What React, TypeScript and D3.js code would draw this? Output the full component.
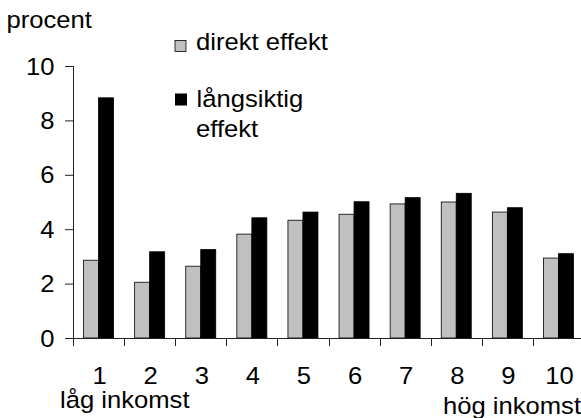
import * as React from "react";
import * as d3 from "d3";

// decile groups (1 = low income, 10 = high income)
const categories = ["1", "2", "3", "4", "5", "6", "7", "8", "9", "10"];
const seriesNames = ["direkt effekt", "långsiktig effekt"];
const direktEffekt = [2.86, 2.05, 2.64, 3.82, 4.33, 4.55, 4.93, 5.0, 4.63, 2.94];
const langsiktigEffekt = [8.83, 3.17, 3.25, 4.42, 4.63, 5.01, 5.16, 5.32, 4.79, 3.1];
const yTicks = [0, 2, 4, 6, 8, 10];
const seriesColors = ["#c0c0c0", "#000000"];

const W = 581;
const H = 418;
const FONT = "'Liberation Sans', Arial, sans-serif";
const FS = 23.5;
const SX = 1.09;

const App: React.FC = () => {
    const svgRef = React.useRef<SVGSVGElement | null>(null);

    React.useEffect(() => {
        if (!svgRef.current) return;
        const svg = d3.select(svgRef.current);
        svg.selectAll("*").remove();

        const x = d3.scaleBand<string>().domain(categories).range([73, 584]).padding(0);
        const bw = x.bandwidth();
        const x1 = d3.scaleBand<string>().domain(seriesNames).range([bw / 2 - 15, bw / 2 + 15]);
        const y = d3.scaleLinear().domain([0, 10]).range([338, 66]);

        const txt = (g: any, s: string, tx: number, ty: number, anchor = "start") =>
            g.append("text")
                .attr("transform", `translate(${tx},${ty}) scale(${SX},1)`)
                .attr("text-anchor", anchor)
                .attr("font-family", FONT)
                .attr("font-size", FS)
                .attr("fill", "#000")
                .text(s);

        // bars
        const rows = categories.map((c, i) => ({ c, vals: [direktEffekt[i], langsiktigEffekt[i]] }));
        const grp = svg.selectAll(".grp").data(rows).enter().append("g")
            .attr("transform", d => `translate(${x(d.c)},0)`);
        grp.selectAll("rect")
            .data(d => d.vals.map((v, k) => ({ k, v })))
            .enter().append("rect")
            .attr("x", d => x1(seriesNames[d.k])!)
            .attr("width", x1.bandwidth())
            .attr("y", d => y(d.v))
            .attr("height", d => y(0) - y(d.v))
            .attr("fill", d => seriesColors[d.k])
            .attr("stroke", "#000")
            .attr("stroke-width", 0.8);

        // y axis
        svg.append("line")
            .attr("x1", 73.5).attr("x2", 73.5).attr("y1", y(10)).attr("y2", y(0))
            .attr("stroke", "#222").attr("stroke-width", 1);
        yTicks.forEach(t => {
            svg.append("line")
                .attr("x1", 65).attr("x2", 73.5).attr("y1", y(t) + 0.5).attr("y2", y(t) + 0.5)
                .attr("stroke", "#222").attr("stroke-width", 1);
            txt(svg, String(t), 54.5, y(t) + 8.5, "end");
        });

        // x axis
        svg.append("line")
            .attr("x1", 65).attr("x2", W).attr("y1", 338.5).attr("y2", 338.5)
            .attr("stroke", "#222").attr("stroke-width", 1);
        categories.forEach((c, i) => {
            const bx = Math.round(x(c)!) + 0.5;
            if (i > 0 || true) {
                svg.append("line")
                    .attr("x1", bx).attr("x2", bx).attr("y1", 338.5).attr("y2", 346)
                    .attr("stroke", "#222").attr("stroke-width", 1);
            }
            txt(svg, c, x(c)! + bw / 2 + 1, 384, "middle");
        });

        txt(svg, "låg inkomst", 60, 408);
        txt(svg, "hög inkomst", 581, 414, "end");
        txt(svg, "procent", 6.5, 28);

        // legend
        svg.append("rect").attr("x", 175).attr("y", 40.5).attr("width", 11).attr("height", 11)
            .attr("fill", seriesColors[0]).attr("stroke", "#000").attr("stroke-width", 0.8);
        txt(svg, "direkt effekt", 196, 50);
        svg.append("rect").attr("x", 175).attr("y", 93.5).attr("width", 12).attr("height", 12)
            .attr("fill", seriesColors[1]);
        txt(svg, "långsiktig", 196.5, 106.7);
        txt(svg, "effekt", 196, 136.7);
    }, []);

    return (
        <svg
            ref={svgRef}
            width={W}
            height={H}
            style={{ position: "absolute", left: 0, top: 0, background: "#fff" }}
        />
    );
};

export default App;
